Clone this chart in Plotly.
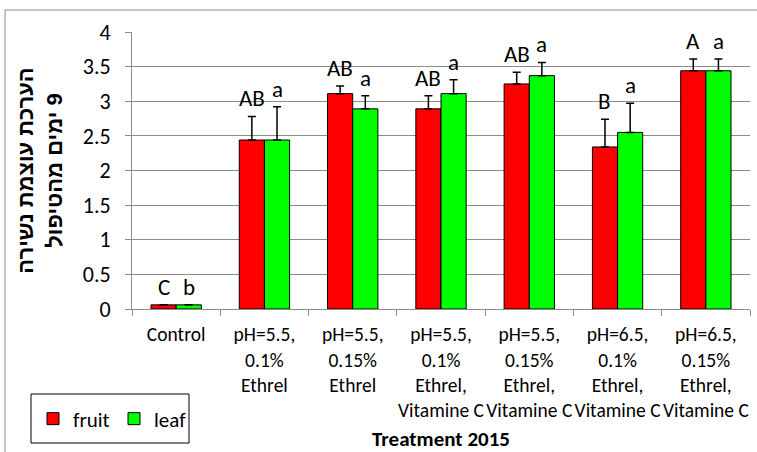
import plotly.graph_objects as go

# Treatments (x categories)
categories = [
    "Control",
    "pH=5.5,<br>0.1%<br>Ethrel",
    "pH=5.5,<br>0.15%<br>Ethrel",
    "pH=5.5,<br>0.1%<br>Ethrel,<br>Vitamine C",
    "pH=5.5,<br>0.15%<br>Ethrel,<br>Vitamine C",
    "pH=6.5,<br>0.1%<br>Ethrel,<br>Vitamine C",
    "pH=6.5,<br>0.15%<br>Ethrel,<br>Vitamine C",
]

# Abscission intensity scores, 9 days after treatment
fruit = [0.06, 2.44, 3.11, 2.89, 3.25, 2.34, 3.44]
fruit_err = [0.0, 0.34, 0.11, 0.19, 0.17, 0.40, 0.17]
leaf = [0.06, 2.44, 2.89, 3.11, 3.37, 2.55, 3.44]
leaf_err = [0.0, 0.48, 0.19, 0.20, 0.19, 0.42, 0.17]

# Significance groups
fruit_letters = ["C", "AB", "AB", "AB", "AB", "B", "A"]
leaf_letters = ["b", "a", "a", "a", "a", "a", "a"]

y_ticks = [0, 0.5, 1, 1.5, 2, 2.5, 3, 3.5, 4]

FONT = "Carlito, Calibri, Lato, sans-serif"
GRID = "#8c8c8c"
RLM = "\u200f"

W, H = 757, 452
ML, MR, MT, MB = 132, 7, 32, 143
plot_w = W - ML - MR
plot_h = H - MT - MB
BARGAP = 0.43


def px_x(px):
    return (px - ML) / plot_w


def px_y(py):
    return (H - MB - py) / plot_h


fig = go.Figure()
fig.add_trace(go.Bar(
    name="fruit", x=categories, y=fruit,
    marker=dict(color="#ff0000", line=dict(color="black", width=1)),
    error_y=dict(type="data", array=fruit_err, symmetric=False,
                 arrayminus=[0] * len(fruit_err),
                 color="black", thickness=1.5, width=4),
))
fig.add_trace(go.Bar(
    name="leaf", x=categories, y=leaf,
    marker=dict(color="#00ff00", line=dict(color="black", width=1)),
    error_y=dict(type="data", array=leaf_err, symmetric=False,
                 arrayminus=[0] * len(leaf_err),
                 color="black", thickness=1.5, width=4),
))

# Letters above each bar's error bar
cat_px = plot_w / len(categories)
offset_px = (1 - BARGAP) / 4 * cat_px
annotations = []
for series, errs, letters, sign in [
    (fruit, fruit_err, fruit_letters, -1),
    (leaf, leaf_err, leaf_letters, 1),
]:
    for cat, v, e, t in zip(categories, series, errs, letters):
        annotations.append(dict(
            x=cat, y=v + e, text=t, showarrow=False,
            xshift=sign * offset_px, yshift=3, yanchor="bottom",
            borderpad=0, font=dict(family=FONT, size=23, color="black"),
        ))

fig.update_layout(
    width=W, height=H,
    margin=dict(l=ML, r=MR, t=MT, b=MB, autoexpand=False),
    paper_bgcolor="white", plot_bgcolor="white",
    barmode="group", bargap=BARGAP, bargroupgap=0,
    font=dict(family=FONT, size=18, color="black"),
    annotations=annotations,
    showlegend=True,
    legend=dict(
        orientation="h", x=px_x(33), y=px_y(419),
        xanchor="left", yanchor="middle",
        borderwidth=0, bgcolor="rgba(0,0,0,0)",
        font=dict(family=FONT, size=21, color="black"),
        itemwidth=30, tracegroupgap=0, entrywidth=36,
    ),
    shapes=[
        # chart frame
        dict(type="rect", xref="paper", yref="paper",
             x0=px_x(5), x1=1.5, y0=-2, y1=px_y(10),
             line=dict(color=GRID, width=1), fillcolor="rgba(0,0,0,0)",
             layer="below"),
        # legend frame
        dict(type="rect", xref="paper", yref="paper",
             x0=px_x(31), x1=px_x(189), y0=px_y(443), y1=px_y(394),
             line=dict(color="black", width=1), fillcolor="white",
             layer="below"),
    ],
)

fig.update_xaxes(
    type="category", tickson="boundaries", tickangle=0,
    ticks="outside", ticklen=6, tickcolor=GRID,
    showline=True, linecolor=GRID, linewidth=1,
    tickfont=dict(family=FONT, size=19.5, color="black"),
    ticklabelstandoff=8,
    automargin=False,
    title=dict(text="<b>Treatment 2015</b>", standoff=11,
               font=dict(family=FONT, size=21, color="black")),
)
fig.update_yaxes(
    range=[0, 4], tickvals=y_ticks,
    ticktext=[f"{v:g}" for v in y_ticks],
    ticks="outside", ticklen=6, tickcolor=GRID,
    showline=True, linecolor=GRID, linewidth=1,
    showgrid=True, gridcolor=GRID, gridwidth=1,
    zeroline=False,
    tickfont=dict(family=FONT, size=22, color="black"),
    ticklabelstandoff=10,
    automargin=False,
    title=dict(
        text=f"<b>{RLM}הערכת עוצמת נשירה<br>{RLM}9 ימים מהטיפול</b>",
        standoff=14,
        font=dict(family="Liberation Sans, Arial, sans-serif", size=22,
                  color="black"),
    ),
)

fig.write_html("out.html")
